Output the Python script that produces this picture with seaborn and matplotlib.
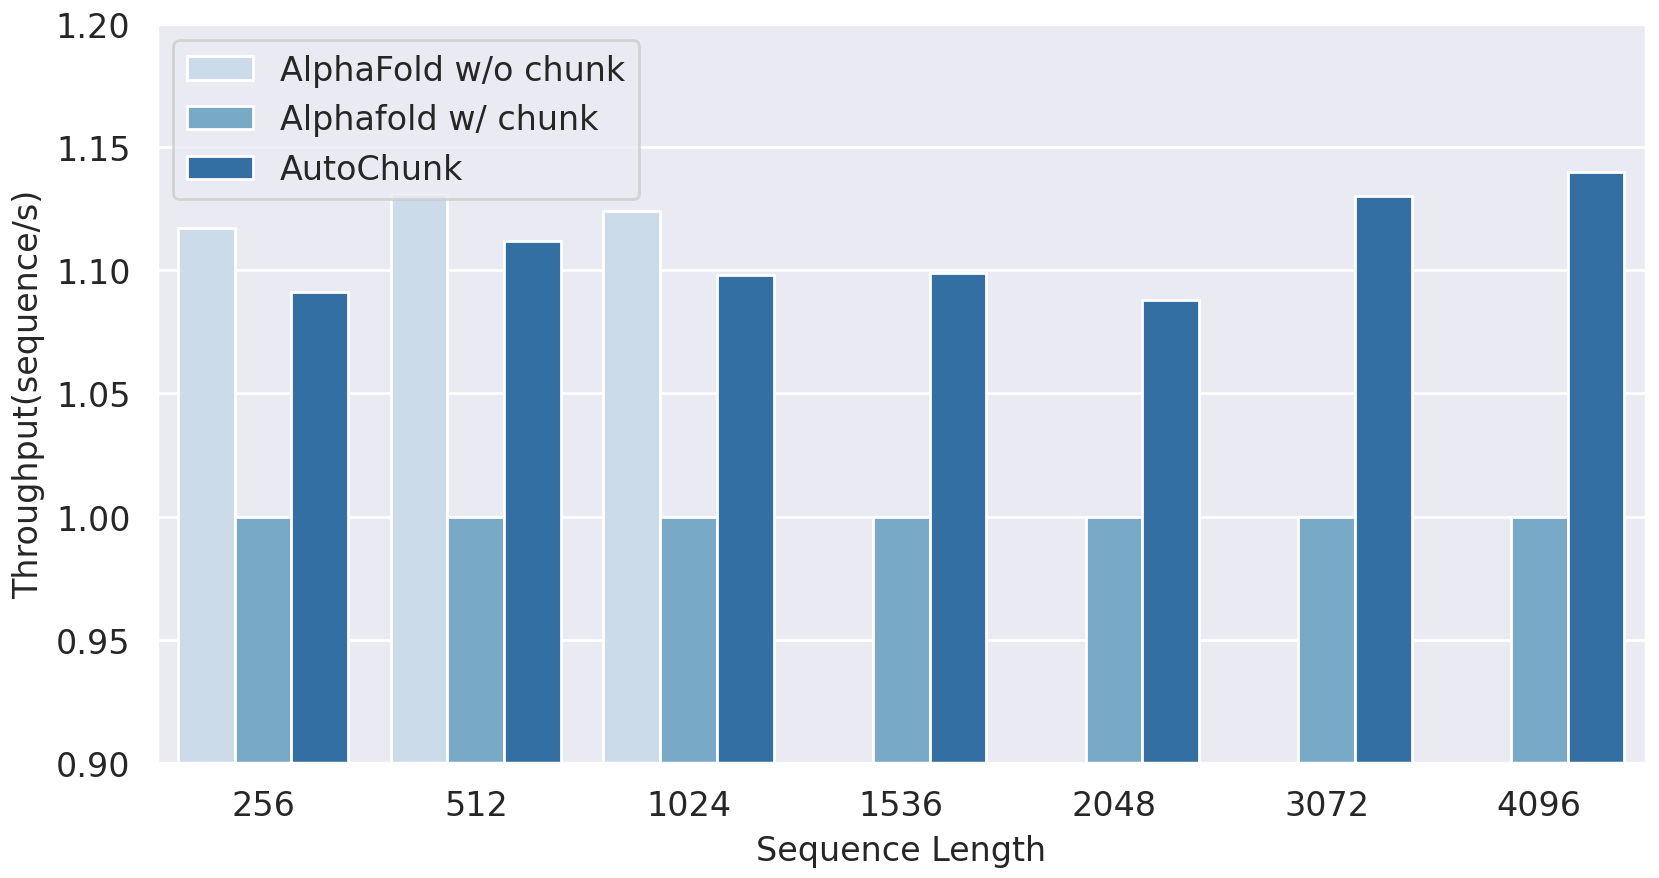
import numpy as np
import pandas as pd
import matplotlib
matplotlib.use("Agg")
import matplotlib.pyplot as plt
import seaborn as sns

seq_lengths = ["256", "512", "1024", "1536", "2048", "3072", "4096"]
af_no_chunk = [1.117, 1.131, 1.124, np.nan, np.nan, np.nan, np.nan]
af_chunk = [1.0, 1.0, 1.0, 1.0, 1.0, 1.0, 1.0]
autochunk = [1.091, 1.112, 1.098, 1.099, 1.088, 1.130, 1.140]
series_names = ["AlphaFold w/o chunk", "Alphafold w/ chunk", "AutoChunk"]

rows = []
for name, vals in zip(series_names, [af_no_chunk, af_chunk, autochunk]):
    for s, v in zip(seq_lengths, vals):
        rows.append({"Sequence Length": s, "Throughput": v, "Method": name})
df = pd.DataFrame(rows)

sns.set_theme(style="darkgrid")
fs = 12.0
plt.rcParams["font.family"] = ["DejaVu Sans"]

fig = plt.figure(figsize=(16.59 / 2, 8.79 / 2), dpi=200)
ax = fig.add_axes([0.0945, 0.1308, 0.8975, 0.8411])
sns.barplot(data=df, x="Sequence Length", y="Throughput", hue="Method",
            order=seq_lengths, hue_order=series_names,
            palette=sns.color_palette("Blues", 3), ax=ax,
            edgecolor="white", linewidth=1.0)
ax.set_ylim(0.90, 1.20)
ax.set_yticks([0.90, 0.95, 1.00, 1.05, 1.10, 1.15, 1.20])
ax.set_yticklabels(["0.90", "0.95", "1.00", "1.05", "1.10", "1.15", "1.20"])
ax.tick_params(labelsize=fs)
ax.set_xlabel("Sequence Length", fontsize=fs)
ax.set_ylabel("Throughput(sequence/s)", fontsize=fs)
ax.legend(loc="upper left", fontsize=fs, title=None)
fig.savefig("out.png", dpi=200)
